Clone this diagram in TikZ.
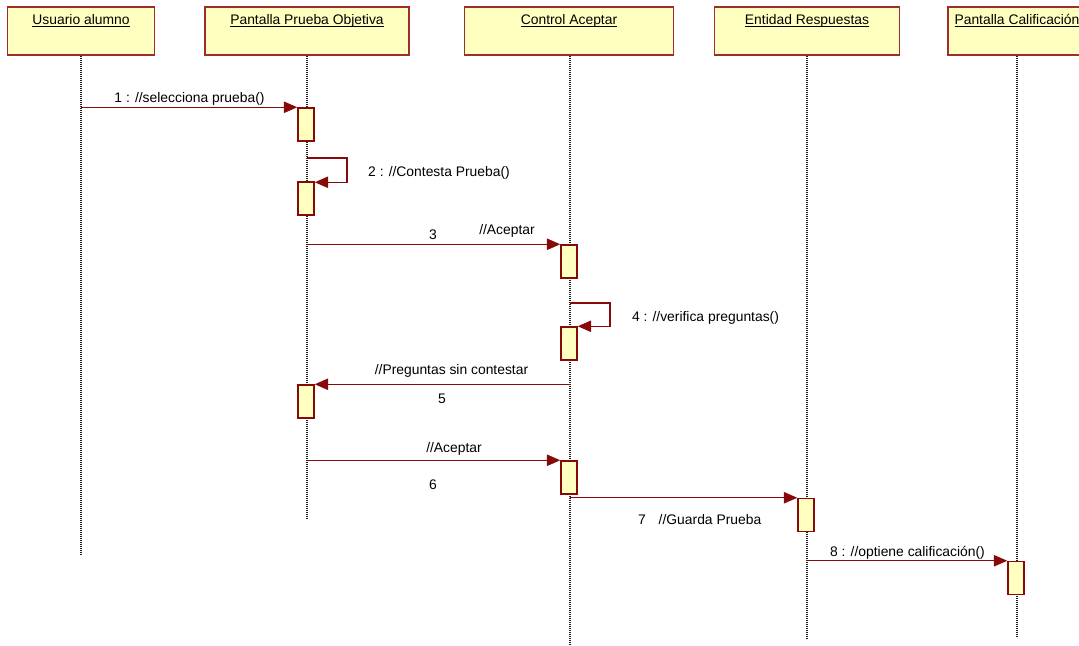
\documentclass[tikz,border=0pt]{standalone}
\usepackage{fontspec}
\setmainfont{Liberation Sans}
\usetikzlibrary{arrows.meta}
\definecolor{boxfill}{RGB}{255,255,192}
\definecolor{boxline}{RGB}{160,45,45}
\definecolor{msgred}{RGB}{135,10,10}
\definecolor{lifegray}{RGB}{30,30,30}
\def\pxu{0.75pt}
% underline drawn just under the baseline
\newcommand\uln[1]{\setbox0\hbox{#1}\rlap{\rule[-1.5pt]{\wd0}{0.6pt}}\box0}
\tikzset{
  headbox/.style={draw=boxline, fill=boxfill, line width=1.4pt, inner sep=0pt,
    minimum height=48*\pxu},
  headtext/.style={anchor=base, inner sep=0pt, font=\fontsize{10.4}{12}\selectfont},
  actbox/.style={draw=msgred, fill=boxfill, line width=1.1pt, inner sep=0pt,
    minimum width=16*\pxu, minimum height=33*\pxu},
  lifeline/.style={draw=lifegray, line width=0.8pt, dash pattern=on 0.75pt off 0.75pt},
  msg/.style={draw=msgred, line width=0.9pt,
    -{Triangle[length=10pt,width=8.5pt]}, color=msgred},
  lbl/.style={anchor=base, inner sep=0pt, font=\fontsize{10.4}{12}\selectfont}
}
\begin{document}
\begin{tikzpicture}[x=0.75pt,y=-0.75pt]
\useasboundingbox (0,0) rectangle (1079,646);
\clip (0,0) rectangle (1079,646);

% object headers
\node[headbox, minimum width=147*\pxu] (b1) at (81,31) {};
\node[headbox, minimum width=204*\pxu] (b2) at (307,31) {};
\node[headbox, minimum width=209*\pxu] (b3) at (569,31) {};
\node[headbox, minimum width=185*\pxu] (b4) at (807,31) {};
\node[headbox, minimum width=138*\pxu] (b5) at (1017,31) {};
\node[headtext] (t1) at (81,25) {\uln{Usuario alumno}};
\node[headtext] (t2) at (307,25) {\uln{Pantalla Prueba Objetiva}};
\node[headtext] (t3) at (569,25) {\uln{Control Aceptar}};
\node[headtext] (t4) at (807,25) {\uln{Entidad Respuestas}};
\node[headtext] (t5) at (1017,25) {\uln{Pantalla Calificación}};

% lifeline ends
\coordinate (e1) at (81,554);
\coordinate (e2) at (307,518);
\coordinate (e3) at (570,646);
\coordinate (e4) at (807,638);
\coordinate (e5) at (1017,636);
\draw[lifeline] (b1.south -| e1) -- (e1);
\draw[lifeline] (b2.south -| e2) -- (e2);
\draw[lifeline] (b3.south -| e3) -- (e3);
\draw[lifeline] (b4.south -| e4) -- (e4);
\draw[lifeline] (b5.south -| e5) -- (e5);

% activations
\node[actbox] (a1) at (306,124.5) {};
\node[actbox] (a2) at (306,198.5) {};
\node[actbox] (a3) at (569,261.5) {};
\node[actbox] (a4) at (569,343.5) {};
\node[actbox] (a5) at (306,401.5) {};
\node[actbox] (a6) at (569,477.5) {};
\node[actbox] (a7) at (806,515) {};
\node[actbox] (a8) at (1016,578) {};

% self-call starts
\coordinate (s2) at (307,158);
\coordinate (s4) at (570,303);

% messages
\draw[msg] (e1 |- a1.north west) -- (a1.north west);
\draw[msg] (s2) -- ++(40,0) |- ([yshift=-0.75pt]a2.north east);
\draw[msg] (e2 |- a3.north west) -- (a3.north west);
\draw[msg] (s4) -- ++(40,0) |- (a4.north east);
\draw[msg] (e3 |- a5.north east) -- (a5.north east);
\draw[msg] (e2 |- a6.north west) -- (a6.north west);
\draw[msg] (e3 |- a7.north west) -- (a7.north west);
\draw[msg] (e4 |- a8.north west) -- (a8.north west);

% message labels
\node[lbl] (l1) at (189.5,102) {1 : //selecciona prueba()};
\node[lbl] (l2) at (439,176) {2 : //Contesta Prueba()};
\node[lbl] (l3n) at (433,239) {3};
\node[lbl] (l3) at (507,234) {//Aceptar};
\node[lbl] (l4) at (705.5,321) {4 : //verifica preguntas()};
\node[lbl] (l5) at (451.5,374) {//Preguntas sin contestar};
\node[lbl] (l5n) at (442,403) {5};
\node[lbl] (l6) at (454,452) {//Aceptar};
\node[lbl] (l6n) at (433,489) {6};
\node[lbl] (l7n) at (642,524) {7};
\node[lbl] (l7) at (710,524) {//Guarda Prueba};
\node[lbl] (l8) at (907.5,556) {8 : //optiene calificación()};
\end{tikzpicture}
\end{document}
